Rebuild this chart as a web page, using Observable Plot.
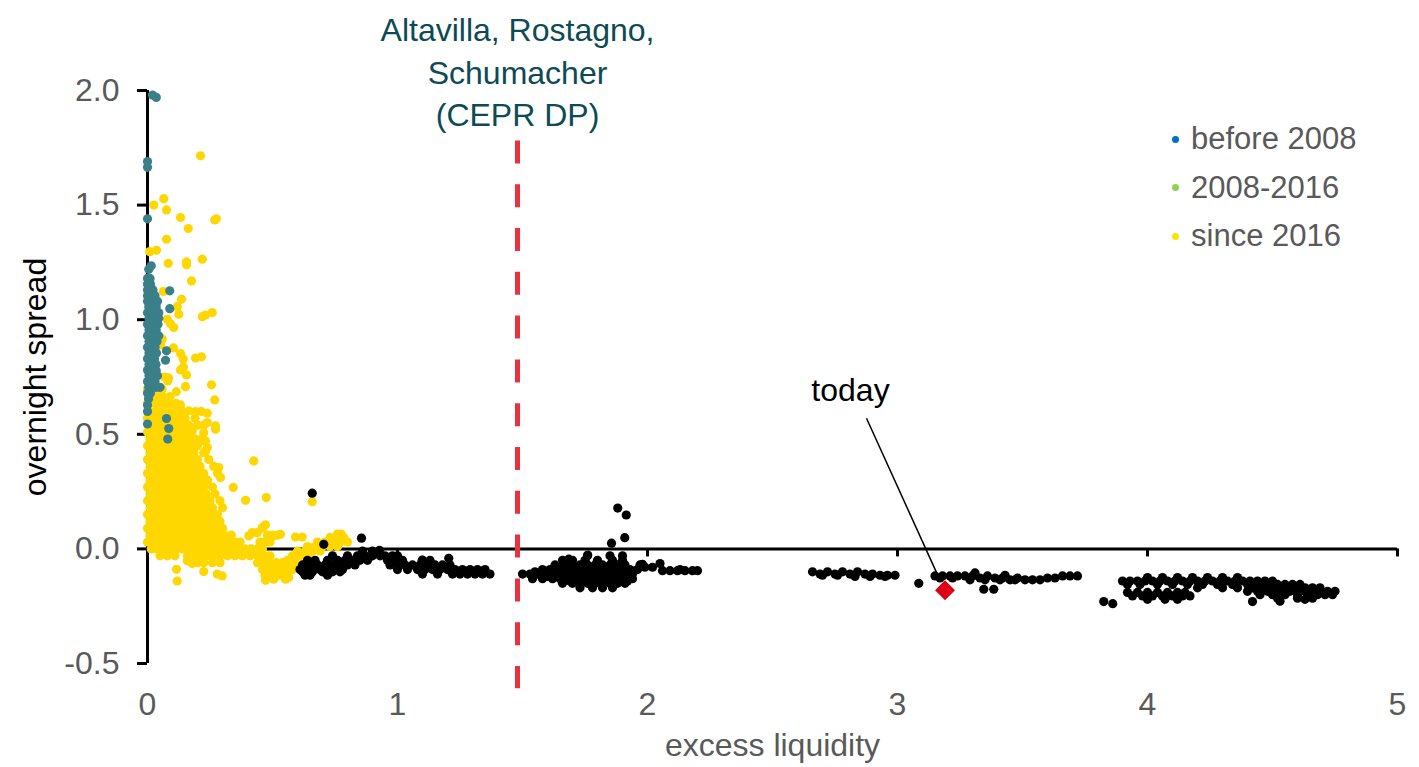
<!DOCTYPE html>
<html><head><meta charset="utf-8">
<script src="https://cdn.jsdelivr.net/npm/d3@7"></script>
<script src="https://cdn.jsdelivr.net/npm/@observablehq/plot@0.6"></script>
<style>
body{margin:0;background:#fff;font-family:"Liberation Sans",Arial,sans-serif;}
#wrap{position:relative;width:1419px;height:767px;overflow:hidden;}
#legend{position:absolute;left:1172px;top:115px;font-size:31px;color:#595959;}
#legend .row{height:48.5px;display:flex;align-items:center;}
#legend .dot{width:7px;height:7px;border-radius:50%;display:inline-block;margin-right:12px;}
</style></head><body>
<div id="wrap"><div id="chart"></div><div id="legend"></div></div>
<script>
// ---- tick values ----
const xTicks = [0, 1, 2, 3, 4, 5];
const yTicks = [-0.5, 0, 0.5, 1, 1.5, 2];

// ---- series names & colours ----
const seriesNames = ["before 2008", "2008-2016", "since 2016"];
const legendColors = ["#0070c0", "#92d050", "#ffe100"];
const pointColors = ["#3b7f88", "#000000", "#ffd700"];

// ---- before 2008 (teal): rows [y, xs] and single points [x, y] ----
const beforeRows = [
  [1.18, [0, 0.01]],
  [1.155, [0, 0.012]],
  [1.13, [0, 0.012, 0.022]],
  [1.105, [0, 0.015, 0.03]],
  [1.08, [0, 0.012, 0.026, 0.04]],
  [1.055, [0.005, 0.02, 0.035]],
  [1.03, [0, 0.014, 0.03, 0.045]],
  [1.005, [0.006, 0.02, 0.034]],
  [0.98, [0, 0.013, 0.028, 0.042]],
  [0.955, [0.006, 0.02, 0.035]],
  [0.93, [0, 0.014, 0.03, 0.045]],
  [0.905, [0.006, 0.022, 0.038]],
  [0.88, [0, 0.015, 0.03]],
  [0.855, [0.006, 0.02, 0.036]],
  [0.83, [0, 0.013, 0.028]],
  [0.805, [0.006, 0.02, 0.034]],
  [0.78, [0, 0.014, 0.028]],
  [0.755, [0.006, 0.02, 0.04]],
  [0.73, [0, 0.014, 0.03]],
  [0.705, [0.005, 0.02, 0.035, 0.05]],
  [0.68, [0, 0.012]],
  [0.655, [0.004]]
];
const beforeExtra = [
  [0.02, 1.98], [0.035, 1.97], [0, 1.69], [0, 1.665], [0, 1.44], [0.005, 1.22], [0.015, 1.235],
  [0.089, 1.126], [0.089, 1.048], [0.045, 1.006], [0.076, 0.864], [0.072, 0.823], [0.035, 0.777],
  [0, 0.628], [0, 0.6], [0, 0.545], [0.076, 0.569], [0.085, 0.525], [0.081, 0.479], [0.012, 0.72]
];

// ---- since 2016 (yellow) ----
const sinceRows = [
  [0.70, [0, 0.02, 0.05]],
  [0.665, [0.01, 0.035, 0.06, 0.09]],
  [0.635, [0, 0.025, 0.05, 0.075, 0.115]],
  [0.60, [0.01, 0.035, 0.06, 0.085, 0.11, 0.14, 0.215]],
  [0.57, [0, 0.025, 0.05, 0.075, 0.1, 0.125, 0.15, 0.19]],
  [0.54, [0.01, 0.035, 0.06, 0.085, 0.11, 0.135, 0.165, 0.2, 0.225]],
  [0.51, [0, 0.025, 0.05, 0.075, 0.1, 0.125, 0.15, 0.175]],
  [0.48, [0.01, 0.035, 0.06, 0.085, 0.11, 0.135, 0.16, 0.19, 0.215]],
  [0.45, [0, 0.025, 0.05, 0.075, 0.1, 0.125, 0.15, 0.175, 0.2]],
  [0.42, [0.01, 0.035, 0.06, 0.085, 0.11, 0.135, 0.16, 0.185, 0.225]],
  [0.39, [0, 0.025, 0.05, 0.075, 0.1, 0.125, 0.15, 0.175, 0.2, 0.245]],
  [0.36, [0.01, 0.035, 0.06, 0.085, 0.11, 0.135, 0.16, 0.185, 0.21, 0.265]],
  [0.33, [0, 0.025, 0.05, 0.075, 0.1, 0.125, 0.15, 0.175, 0.2, 0.225, 0.28]],
  [0.30, [0.01, 0.035, 0.06, 0.085, 0.11, 0.135, 0.16, 0.185, 0.21, 0.24]],
  [0.27, [0, 0.025, 0.05, 0.075, 0.1, 0.125, 0.15, 0.175, 0.2, 0.225, 0.26]],
  [0.24, [0.01, 0.035, 0.06, 0.085, 0.11, 0.135, 0.16, 0.185, 0.21, 0.235, 0.27]],
  [0.21, [0, 0.025, 0.05, 0.075, 0.1, 0.125, 0.15, 0.175, 0.2, 0.225, 0.25, 0.29]],
  [0.18, [0.01, 0.035, 0.06, 0.085, 0.11, 0.135, 0.16, 0.185, 0.21, 0.235, 0.26, 0.3]],
  [0.15, [0, 0.025, 0.05, 0.075, 0.1, 0.125, 0.15, 0.175, 0.2, 0.225, 0.25, 0.28]],
  [0.12, [0.01, 0.035, 0.06, 0.085, 0.11, 0.135, 0.16, 0.185, 0.21, 0.235, 0.26, 0.29]],
  [0.09, [0, 0.025, 0.05, 0.075, 0.1, 0.125, 0.15, 0.175, 0.2, 0.225, 0.25, 0.275, 0.3, 0.46]],
  [0.06, [0.01, 0.035, 0.06, 0.085, 0.11, 0.135, 0.16, 0.185, 0.21, 0.235, 0.26, 0.285, 0.31, 0.335, 0.48, 0.5, 0.52]],
  [0.03, [0, 0.025, 0.05, 0.075, 0.1, 0.125, 0.15, 0.175, 0.2, 0.225, 0.25, 0.275, 0.3, 0.325, 0.35, 0.37, 0.45, 0.47, 0.49]],
  [0.0, [0.015, 0.04, 0.065, 0.09, 0.115, 0.14, 0.165, 0.19, 0.215, 0.24, 0.265, 0.29, 0.315, 0.34, 0.365, 0.39, 0.415, 0.44, 0.46]],
  [-0.03, [0.05, 0.08, 0.11, 0.16, 0.19, 0.215, 0.24, 0.265, 0.29, 0.32, 0.35, 0.38, 0.41, 0.44, 0.465, 0.49]],
  [-0.06, [0.18, 0.2, 0.225, 0.26, 0.29, 0.44, 0.465, 0.49, 0.515, 0.54, 0.565, 0.59]],
  [-0.09, [0.46, 0.485, 0.51, 0.535, 0.56, 0.58]],
  [-0.115, [0.47, 0.5, 0.53, 0.56]],
  [-0.05, [0.56, 0.585]],
  [-0.03, [0.58, 0.61, 0.64]],
  [-0.01, [0.6, 0.63, 0.66, 0.69]],
  [0.01, [0.64, 0.67, 0.7, 0.73, 0.76]],
  [0.03, [0.68, 0.71, 0.74, 0.77, 0.8]],
  [0.05, [0.73, 0.76, 0.785]],
  [0.065, [0.76, 0.775]]
];
const sinceExtra = [
  [0.212, 1.715], [0.065, 1.528], [0.025, 1.50], [0.076, 1.479], [0.132, 1.446], [0.269, 1.435], [0.275, 1.44],
  [0.163, 1.398], [0.076, 1.351], [0.009, 1.297], [0.036, 1.303], [0.219, 1.264], [0.083, 1.246], [0.156, 1.252],
  [0.156, 1.24], [0.176, 1.169], [0.01, 1.174], [0.063, 1.123], [0.136, 1.089], [0.119, 1.057], [0.125, 1.024],
  [0.219, 1.013], [0.232, 1.02], [0.259, 1.031], [0.079, 1.002], [0.092, 0.982], [0.105, 0.966], [0.059, 0.916],
  [0.052, 0.89], [0.104, 0.877], [0.132, 0.852], [0.143, 0.829], [0.192, 0.833], [0.216, 0.838], [0.144, 0.794],
  [0.132, 0.781], [0.156, 0.759], [0.068, 0.75], [0.084, 0.746], [0.115, 0.686], [0.152, 0.708], [0.256, 0.716],
  [0.269, 0.65], [0.059, 0.697], [0.081, 0.733], [0.101, 0.631], [0.132, 0.628], [0.165, 0.602], [0.192, 0.599],
  [0.239, 0.592], [0.239, 0.551], [0.272, 0.537], [0.272, 0.522], [0.225, 0.507], [0.232, 0.471], [0.239, 0.442],
  [0.179, 0.515], [0.209, 0.471], [0.232, 0.425], [0.285, 0.355], [0.292, 0.311], [0.425, 0.384], [0.343, 0.268],
  [0.392, 0.212], [0.475, 0.224], [0.659, 0.206], [0.472, 0.105], [0.459, 0.093], [0.592, 0.052], [0.619, 0.052],
  [0.532, 0.064], [0.505, 0.057], [0.419, 0.071], [0.439, 0.071], [0.405, 0.057],
  [0.119, -0.14], [0.116, -0.089], [0.225, -0.099], [0.279, -0.11], [0.299, -0.118], [0.159, -0.052], [0.179, -0.064],
  [0.472, -0.137], [0.505, -0.132], [0.552, -0.132], [0.565, -0.125]
];

// ---- 2008-2016 (black) ----
const midRows = [
  [-0.115, [0.63, 0.65, 0.72]],
  [-0.1, [0.62, 0.66, 0.7, 0.74, 0.77]],
  [-0.09, [0.61, 0.635, 0.66, 0.69, 0.72, 0.75, 0.78]],
  [-0.07, [0.62, 0.65, 0.68, 0.71, 0.74, 0.77, 0.8, 0.83]],
  [-0.05, [0.64, 0.67, 0.72, 0.76, 0.79, 0.82, 0.85, 0.88]],
  [-0.03, [0.74, 0.8, 0.84, 0.87, 0.9, 0.93]],
  [-0.01, [0.86, 0.9]],
  [-0.03, [0.95, 0.98, 1.0]],
  [-0.05, [0.96, 0.99, 1.02, 1.1, 1.13]],
  [-0.07, [0.97, 1.0, 1.03, 1.06, 1.09, 1.12, 1.15, 1.18, 1.21]],
  [-0.09, [1.0, 1.04, 1.08, 1.11, 1.14, 1.17, 1.2, 1.23, 1.26, 1.29, 1.32, 1.35]],
  [-0.11, [1.1, 1.16, 1.22, 1.25, 1.28, 1.31, 1.34, 1.37]],
  [-0.03, [1.76, 1.85, 1.9]],
  [-0.05, [1.66, 1.7, 1.75, 1.8, 1.86, 1.9]],
  [-0.07, [1.63, 1.67, 1.7, 1.73, 1.76, 1.79, 1.82, 1.85, 1.88, 1.91, 1.97]],
  [-0.08, [1.65, 1.72, 1.78, 1.84, 1.9]],
  [-0.09, [1.58, 1.61, 1.64, 1.67, 1.7, 1.73, 1.76, 1.79, 1.82, 1.85, 1.88, 1.91, 1.93, 1.96]],
  [-0.1, [1.55, 1.62, 1.69, 1.75, 1.81, 1.87, 1.92]],
  [-0.11, [1.5, 1.53, 1.56, 1.59, 1.62, 1.65, 1.68, 1.71, 1.74, 1.77, 1.8, 1.83, 1.86, 1.89, 1.92, 1.94]],
  [-0.12, [1.6, 1.66, 1.72, 1.78, 1.84, 1.9]],
  [-0.13, [1.54, 1.58, 1.62, 1.65, 1.68, 1.71, 1.74, 1.77, 1.8, 1.83, 1.86, 1.89, 1.92, 1.94]],
  [-0.14, [1.69, 1.75, 1.81, 1.87, 1.92]],
  [-0.15, [1.66, 1.7, 1.73, 1.76, 1.79, 1.82, 1.85, 1.88, 1.91]],
  [-0.17, [1.73, 1.78, 1.82, 1.86]],
  [-0.08, [1.99, 2.02]],
  [-0.095, [2.06, 2.09, 2.12, 2.15, 2.18, 2.2]],
  [-0.1, [2.66, 2.72, 2.78, 2.84]],
  [-0.11, [2.69, 2.75, 2.81, 2.87, 2.9]],
  [-0.115, [2.7, 2.76, 2.93, 2.96, 2.99]],
  [-0.12, [2.83, 2.89, 2.95]],
  [-0.118, [3.15, 3.18, 3.21, 3.24, 3.27, 3.3, 3.36, 3.66, 3.69, 3.72]],
  [-0.127, [3.17, 3.22, 3.33, 3.39, 3.42, 3.48, 3.6, 3.63]],
  [-0.135, [3.29, 3.35, 3.41, 3.45, 3.47, 3.51, 3.54, 3.57]],
  [-0.125, [4.0, 4.06, 4.12, 4.18, 4.24, 4.3, 4.36]],
  [-0.14, [3.9, 3.93, 3.96, 3.99, 4.02, 4.05, 4.08, 4.11, 4.14, 4.17, 4.2, 4.23, 4.26, 4.29, 4.32, 4.35, 4.38, 4.41, 4.44, 4.47, 4.5]],
  [-0.155, [3.92, 3.97, 4.04, 4.1, 4.16, 4.22, 4.28, 4.34, 4.4, 4.43, 4.46, 4.49, 4.52, 4.55, 4.58, 4.61]],
  [-0.17, [4.2, 4.3, 4.36, 4.42, 4.45, 4.48, 4.51, 4.54, 4.57, 4.6, 4.63, 4.66, 4.69]],
  [-0.185, [4.4, 4.44, 4.48, 4.51, 4.54, 4.57, 4.6, 4.63, 4.66, 4.69, 4.72, 4.75]],
  [-0.2, [4.45, 4.5, 4.55, 4.6, 4.64, 4.68, 4.71, 4.74]],
  [-0.215, [4.52, 4.6, 4.66]],
  [-0.19, [3.92, 3.96, 4.0, 4.04, 4.08, 4.12, 4.15]],
  [-0.205, [3.94, 3.98, 4.02, 4.06, 4.1, 4.14, 4.17]],
  [-0.22, [4.0, 4.07, 4.12]]
];
const midExtra = [
  [0.659, 0.243], [0.705, 0.02], [0.856, 0.047], [0.928, -0.006], [1.099, -0.049], [1.205, -0.041],
  [1.881, 0.178], [1.915, 0.148], [1.909, 0.049], [1.856, 0.025], [1.761, -0.027], [1.685, -0.045],
  [1.98, -0.067], [2.05, -0.064], [2.13, -0.09], [3.085, -0.15], [3.31, -0.105], [3.43, -0.115],
  [3.345, -0.176], [3.385, -0.176], [4.42, -0.23], [4.53, -0.228], [4.63, -0.22], [3.825, -0.23], [3.861, -0.239]
];

// ---- annotations ----
const cutoffX = 1.48;
const cutoffSpan = [1.78, -0.61];
const cutoffLabel = "Altavilla, Rostagno,\nSchumacher\n(CEPR DP)";
const cutoffLabelY = 2.347;
const todayPoint = [3.19, -0.18];
const todayLabel = {x: 2.812, y: 0.69, text: "today"};
const todayLeader = {x1: 2.876, y1: 0.57, x2: 3.159, y2: -0.11};
const xTitle = "excess liquidity";
const yTitle = "overnight spread";

// build tables
const fromRows = rows => rows.flatMap(([y, xs]) => xs.map(x => ({x, y})));
const fromPairs = pairs => pairs.map(([x, y]) => ({x, y}));
const beforeData = fromRows(beforeRows).concat(fromPairs(beforeExtra));
const sinceData = fromRows(sinceRows).concat(fromPairs(sinceExtra));
const midData = fromRows(midRows).concat(fromPairs(midExtra));

const font = "Liberation Sans, Arial, sans-serif";
const R = 4.6;
const chart = Plot.plot({
  width: 1419,
  height: 767,
  marginLeft: 147,
  marginRight: 22,
  marginTop: 90,
  marginBottom: 104,
  x: {domain: [0, 5]},
  y: {domain: [-0.5, 2]},
  style: {fontFamily: font, background: "white", overflow: "visible"},
  marks: [
    Plot.axisY({ticks: yTicks, tickSize: 10, tickPadding: 18, tickFormat: d => d.toFixed(1), fontSize: 32, fill: "#595959", stroke: "black", strokeWidth: 3, label: null}),
    Plot.axisX({ticks: xTicks, tickSize: 0, tickPadding: 29, tickFormat: d => String(d), fontSize: 32, fill: "#595959", label: null}),
    Plot.ruleX([0], {y1: -0.5, y2: 2, strokeWidth: 3}),
    Plot.ruleY([0], {x1: 0, x2: 5, strokeWidth: 3}),
    Plot.ruleX(xTicks.filter(d => d > 0), {y1: 0, y2: -0.035, strokeWidth: 3}),
    Plot.ruleX([cutoffX], {y1: cutoffSpan[0], y2: cutoffSpan[1], stroke: "#e8323f", strokeWidth: 5, strokeDasharray: "23,20.8"}),
    Plot.text([cutoffLabel], {x: cutoffX, y: cutoffLabelY, text: d => d, lineAnchor: "top", lineHeight: 1.33, fontSize: 32, fill: "#0d4a53"}),
    Plot.dot(sinceData, {x: "x", y: "y", r: R, fill: pointColors[2]}),
    Plot.dot(beforeData, {x: "x", y: "y", r: R, fill: pointColors[0]}),
    Plot.dot(midData, {x: "x", y: "y", r: R, fill: pointColors[1]}),
    Plot.link([todayLeader], {x1: "x1", y1: "y1", x2: "x2", y2: "y2", stroke: "black", strokeWidth: 1.5}),
    Plot.text([todayLabel], {x: "x", y: "y", text: "text", fontSize: 32, fill: "black"}),
    Plot.dot([todayPoint], {x: d => d[0], y: d => d[1], symbol: "diamond2", r: 9, fill: "#dc0016", stroke: null}),
    Plot.text([xTitle], {frameAnchor: "bottom", lineAnchor: "middle", textAnchor: "middle", dy: 82, text: d => d, fontSize: 32, fill: "#595959"}),
    Plot.text([yTitle], {frameAnchor: "left", textAnchor: "middle", lineAnchor: "middle", dx: -112, rotate: -90, text: d => d, fontSize: 32, fill: "black"})
  ]
});
document.getElementById("chart").appendChild(chart);

// legend
const legend = document.getElementById("legend");
seriesNames.forEach((name, i) => {
  const row = document.createElement("div");
  row.className = "row";
  const dot = document.createElement("span");
  dot.className = "dot";
  dot.style.background = legendColors[i];
  row.appendChild(dot);
  row.appendChild(document.createTextNode(name));
  legend.appendChild(row);
});
</script>
</body></html>
